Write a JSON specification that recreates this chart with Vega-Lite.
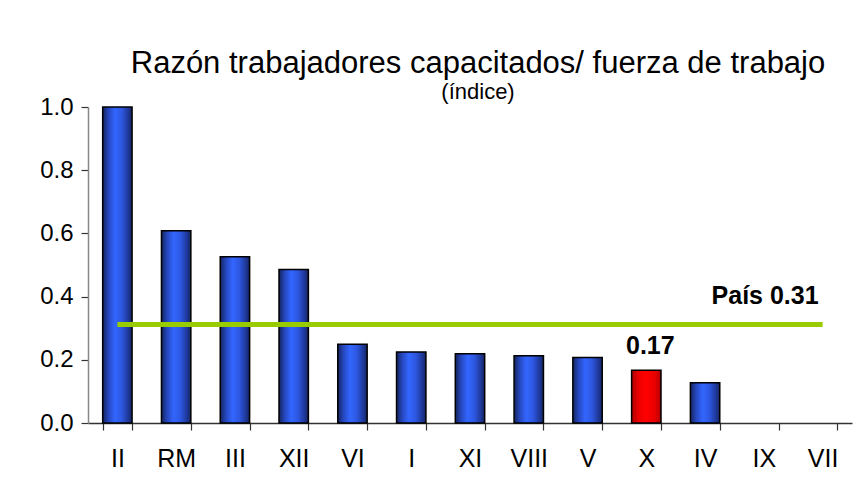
{
  "$schema": "https://vega.github.io/schema/vega-lite/v6.json",
  "autosize": "none",
  "width": 764,
  "height": 316,
  "padding": {"left": 88, "top": 107, "right": 12, "bottom": 73},
  "background": "white",
  "config": {
    "font": "Liberation Sans",
    "view": {"stroke": null}
  },
  "title": {
    "text": "Razón trabajadores capacitados/ fuerza de trabajo",
    "subtitle": "(índice)",
    "anchor": "middle",
    "dx": 8,
    "fontSize": 31,
    "fontWeight": "normal",
    "color": "black",
    "subtitleFontSize": 22,
    "subtitleColor": "black",
    "subtitlePadding": 2,
    "offset": -9
  },
  "datasets": {
    "bars": [
      {"region": "II", "value": 1.0},
      {"region": "RM", "value": 0.608},
      {"region": "III", "value": 0.526},
      {"region": "XII", "value": 0.486},
      {"region": "VI", "value": 0.249},
      {"region": "I", "value": 0.225},
      {"region": "XI", "value": 0.219},
      {"region": "VIII", "value": 0.213},
      {"region": "V", "value": 0.207},
      {"region": "X", "value": 0.167},
      {"region": "IV", "value": 0.127},
      {"region": "IX", "value": null},
      {"region": "VII", "value": null}
    ],
    "pais": [
      {"region": "II", "value": 0.312},
      {"region": "VII", "value": 0.312}
    ]
  },
  "layer": [
    {
      "data": {"name": "bars"},
      "transform": [{"filter": "datum.region !== 'X' && datum.value != null"}],
      "mark": {
        "type": "bar",
        "stroke": "black",
        "strokeWidth": 1.5,
        "fill": {
          "gradient": "linear", "x1": 0, "x2": 1, "y1": 0, "y2": 0,
          "stops": [
            {"offset": 0, "color": "#15245e"},
            {"offset": 0.2, "color": "#2648c0"},
            {"offset": 0.42, "color": "#3366ff"},
            {"offset": 0.65, "color": "#2d57e0"},
            {"offset": 0.88, "color": "#1e3796"},
            {"offset": 1, "color": "#15245e"}
          ]
        }
      },
      "encoding": {
        "x": {
          "field": "region", "type": "nominal", "sort": null,
          "scale": {"domain": ["II","RM","III","XII","VI","I","XI","VIII","V","X","IV","IX","VII"], "paddingInner": 0.5, "paddingOuter": 0.25},
          "axis": {
            "title": null, "labelAngle": 0, "labelFontSize": 25, "labelColor": "black",
            "labelPadding": 16, "tickBand": "extent", "tickSize": 7, "tickColor": "#333",
            "domainColor": "#333", "domainWidth": 1.5, "tickWidth": 1.2
          }
        },
        "y": {
          "field": "value", "type": "quantitative",
          "scale": {"domain": [0, 1]},
          "axis": {
            "title": null, "grid": false, "values": [0, 0.2, 0.4, 0.6, 0.8, 1.0],
            "labelOverlap": false,
            "format": ".1f", "labelFontSize": 24, "labelColor": "black", "labelPadding": 8,
            "tickSize": 7, "tickColor": "#333", "domainColor": "#888", "domainWidth": 1.5, "tickWidth": 1.2
          }
        }
      }
    },
    {
      "data": {"name": "bars"},
      "transform": [{"filter": "datum.region === 'X'"}],
      "mark": {
        "type": "bar",
        "stroke": "black",
        "strokeWidth": 1.5,
        "fill": {
          "gradient": "linear", "x1": 0, "x2": 1, "y1": 0, "y2": 0,
          "stops": [
            {"offset": 0, "color": "#b00000"},
            {"offset": 0.25, "color": "#ee0000"},
            {"offset": 0.5, "color": "#ff0000"},
            {"offset": 0.8, "color": "#e80000"},
            {"offset": 1, "color": "#b00000"}
          ]
        }
      },
      "encoding": {
        "x": {"field": "region", "type": "nominal", "sort": null},
        "y": {"field": "value", "type": "quantitative"}
      }
    },
    {
      "data": {"name": "pais"},
      "mark": {"type": "line", "color": "#99cc00", "strokeWidth": 5},
      "encoding": {
        "x": {"field": "region", "type": "nominal", "sort": null},
        "y": {"field": "value", "type": "quantitative"}
      }
    },
    {
      "data": {"name": "pais"},
      "transform": [{"filter": "datum.region === 'VII'"}, {"calculate": "'País 0.31'", "as": "label"}],
      "mark": {"type": "text", "align": "right", "baseline": "alphabetic", "dx": -4, "dy": -20, "fontSize": 25, "fontWeight": "bold", "color": "black"},
      "encoding": {
        "x": {"field": "region", "type": "nominal", "sort": null},
        "y": {"field": "value", "type": "quantitative"},
        "text": {"field": "label"}
      }
    },
    {
      "data": {"name": "bars"},
      "transform": [{"filter": "datum.region === 'X'"}],
      "mark": {"type": "text", "align": "center", "baseline": "alphabetic", "dx": 4, "dy": -16, "fontSize": 25, "fontWeight": "bold", "color": "black"},
      "encoding": {
        "x": {"field": "region", "type": "nominal", "sort": null},
        "y": {"field": "value", "type": "quantitative"},
        "text": {"field": "value", "format": ".2f"}
      }
    }
  ]
}
